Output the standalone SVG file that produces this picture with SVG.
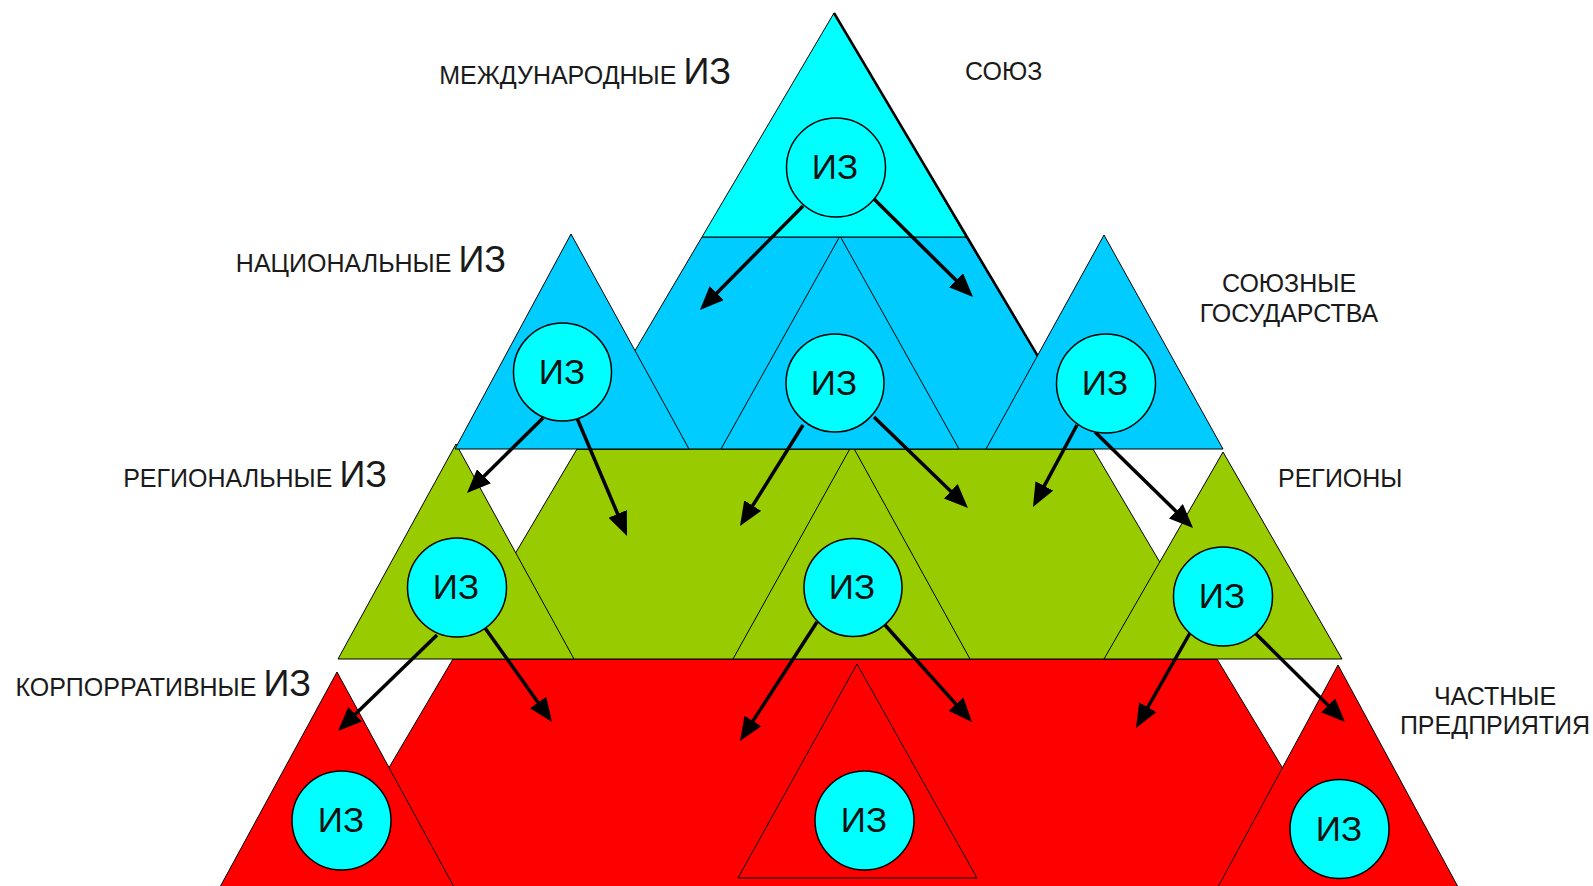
<svg xmlns="http://www.w3.org/2000/svg" width="1593" height="886" viewBox="0 0 1593 886">
<style>
.sh{stroke:#000;stroke-width:1;stroke-linejoin:miter}
.cy{fill:#00FFFF}
.bl{fill:#00CCFF}
.gr{fill:#99CC00}
.rd{fill:#FF0000}
.node circle{fill:#00FFFF;stroke:#000;stroke-width:1.5}
.node text{font-family:"Liberation Sans",Arial,sans-serif;font-size:35px;fill:#111;text-anchor:middle}
.lbl{font-family:"Liberation Sans",Arial,sans-serif;font-size:25px;fill:#1a1a1a}
.big{font-size:36px}
.arr{stroke:#000;stroke-width:3.5;fill:none;marker-end:url(#ah)}
</style>
<defs>
<marker id="ah" markerUnits="userSpaceOnUse" markerWidth="26" markerHeight="20" refX="14" refY="10" orient="auto">
<path d="M0,0 L24,10 L0,20 Z" fill="#000"/>
</marker>
</defs>
<rect width="1593" height="886" fill="#fff"/>
<g id="levels">
<polygon class="sh rd" points="453,659 1217,659 1362,900 311,900"/>
<polygon class="sh rd" points="857,664 977,878 738,878"/>
<polygon class="sh rd" points="337,672 460,898 214,898"/>
<polygon class="sh rd" points="1338,665 1464,898 1212,898"/>
<polygon class="sh gr" points="577,449 1093,449 1217,659 453,659"/>
<polygon class="sh gr" points="852,445 970,659 733,659"/>
<polygon class="sh gr" points="456,444 574,659 338,659"/>
<polygon class="sh gr" points="1223,452 1342,659 1104,659"/>
<polygon class="sh bl" points="702,237 966,237 1093,449 577,449"/>
<polygon class="sh bl" points="840,236 959,449 721,449"/>
<polygon class="sh cy" points="834,13 966,237 702,237"/>
<line x1="834" y1="13" x2="1093" y2="449" stroke="#000" stroke-width="2.5"/>
<polygon class="sh bl" points="571,234 689,449 455,449"/>
<polygon class="sh bl" points="1104,235 1223,449 986,449"/>
</g>
<g id="connectors">
<line class="arr" x1="803" y1="206" x2="707" y2="302.9"/>
<line class="arr" x1="874" y1="199" x2="965.9" y2="290"/>
<line class="arr" x1="543" y1="418" x2="474.1" y2="486"/>
<line class="arr" x1="577" y1="418" x2="623.1" y2="526.8"/>
<line class="arr" x1="803" y1="425" x2="745.3" y2="517.5"/>
<line class="arr" x1="874" y1="417" x2="960.8" y2="501"/>
<line class="arr" x1="1077" y1="425" x2="1037.7" y2="498.2"/>
<line class="arr" x1="1095" y1="432" x2="1185.9" y2="521"/>
<line class="arr" x1="437" y1="635" x2="345.2" y2="724"/>
<line class="arr" x1="485" y1="628" x2="546.2" y2="713.9"/>
<line class="arr" x1="817" y1="622" x2="745.4" y2="732.6"/>
<line class="arr" x1="885" y1="625" x2="965.3" y2="714.6"/>
<line class="arr" x1="1190" y1="633" x2="1140.9" y2="719.3"/>
<line class="arr" x1="1255" y1="633" x2="1337.9" y2="715"/>
</g>
<g id="n-top" class="node"><circle cx="836" cy="167.5" r="49.5"/><text x="835" y="179">ИЗ</text></g>
<g id="n-b1" class="node"><circle cx="562.5" cy="372" r="49"/><text x="562" y="384">ИЗ</text></g>
<g id="n-b2" class="node"><circle cx="835" cy="383" r="49"/><text x="834" y="395">ИЗ</text></g>
<g id="n-b3" class="node"><circle cx="1106" cy="383.5" r="49.5"/><text x="1105" y="395">ИЗ</text></g>
<g id="n-g1" class="node"><circle cx="457" cy="587.5" r="49.5"/><text x="456" y="599">ИЗ</text></g>
<g id="n-g2" class="node"><circle cx="853" cy="587.5" r="49"/><text x="852" y="599">ИЗ</text></g>
<g id="n-g3" class="node"><circle cx="1223" cy="596.5" r="49.5"/><text x="1222" y="608">ИЗ</text></g>
<g id="n-r1" class="node"><circle cx="341.5" cy="820.5" r="49.5"/><text x="341" y="832">ИЗ</text></g>
<g id="n-r2" class="node"><circle cx="864.5" cy="820.5" r="49.5"/><text x="864" y="832">ИЗ</text></g>
<g id="n-r3" class="node"><circle cx="1339.5" cy="829" r="49.5"/><text x="1339" y="841">ИЗ</text></g>
<g id="labels">
<text class="lbl" x="731" y="84" text-anchor="end">МЕЖДУНАРОДНЫЕ <tspan class="big">ИЗ</tspan></text>
<text class="lbl" x="506" y="272" text-anchor="end">НАЦИОНАЛЬНЫЕ <tspan class="big">ИЗ</tspan></text>
<text class="lbl" x="387" y="487" text-anchor="end">РЕГИОНАЛЬНЫЕ <tspan class="big">ИЗ</tspan></text>
<text class="lbl" x="311" y="696" text-anchor="end">КОРПОРРАТИВНЫЕ <tspan class="big">ИЗ</tspan></text>
<text class="lbl" x="965" y="80">СОЮЗ</text>
<text class="lbl" x="1289" y="292" text-anchor="middle">СОЮЗНЫЕ</text>
<text class="lbl" x="1289" y="322" text-anchor="middle">ГОСУДАРСТВА</text>
<text class="lbl" x="1278" y="487">РЕГИОНЫ</text>
<text class="lbl" x="1495" y="705" text-anchor="middle">ЧАСТНЫЕ</text>
<text class="lbl" x="1495" y="734" text-anchor="middle">ПРЕДПРИЯТИЯ</text>
</g>
</svg>
